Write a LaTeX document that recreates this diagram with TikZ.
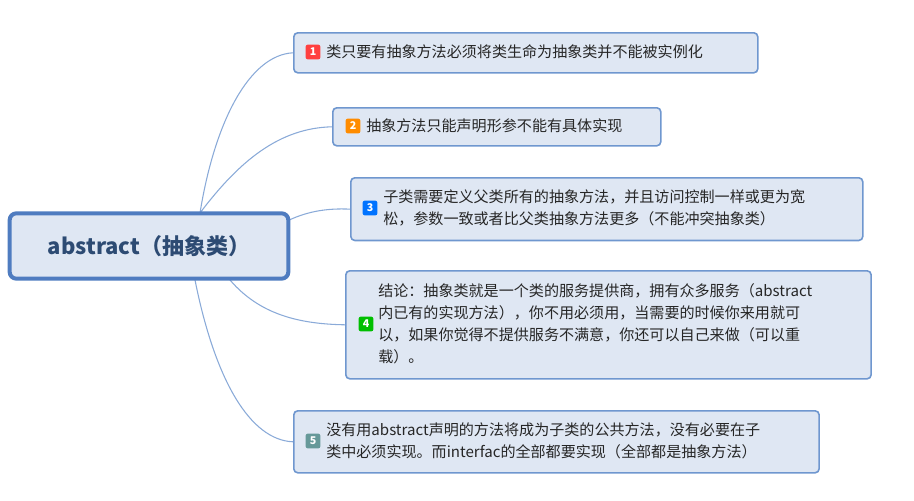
\documentclass[tikz,border=0pt]{standalone}
\usepackage{fontspec}
\setmainfont{Noto Sans CJK SC}
\begin{document}
\begin{tikzpicture}[x=0.75pt,y=-0.75pt,
  box/.style={draw=boxc,fill=boxf,line width=1.2pt,rounded corners=3pt,anchor=north west,inner sep=0pt},
  txt/.style={anchor=west,align=left,font=\fontsize{11.3}{16.5}\selectfont,text=black!85,inner sep=0pt},
  badge/.style={fill=#1,text=white,font=\fontsize{8}{8}\selectfont\bfseries,rounded corners=1.5pt,minimum width=11pt,minimum height=11pt,inner sep=0pt},
  link/.style={draw=linec,line width=0.8pt}]
\definecolor{boxc}{HTML}{6F97CF}
\definecolor{boxf}{HTML}{DFE7F3}
\definecolor{linec}{HTML}{8AAAD8}
\definecolor{rootc}{HTML}{4F7CC0}
\definecolor{roott}{HTML}{2D4B73}
\useasboundingbox (0,0) rectangle (914,500);
% boxes
\node[box,minimum width=464pt*0.75/0.75,minimum width=348pt,minimum height=30pt] (n1) at (293,32) {};
\node[box,minimum width=246pt,minimum height=28.5pt] (n2) at (332,107) {};
\node[box,minimum width=384pt,minimum height=47pt] (n3) at (350,177) {};
\node[box,minimum width=394pt,minimum height=81pt] (n4) at (345,270) {};
\node[box,minimum width=394pt,minimum height=46.5pt] (n5) at (293,410) {};
% connectors
\coordinate (r1) at (200,213);
\coordinate (r5) at (195,280);
\draw[link] (r1) .. controls (215,120) and (250,55) .. (n1.west);
\draw[link] (r1) .. controls (240,160) and (280,128) .. (n2.west);
\draw[link] (285,222) .. controls (305,212) and (325,208) .. (n3.west);
\draw[link] (230,280) .. controls (260,315) and (300,324) .. (n4.west);
\draw[link] (r5) .. controls (215,380) and (250,440) .. (n5.west);
% root
\node[draw=rootc,fill=boxf,line width=3pt,rounded corners=5pt,minimum width=209pt,minimum height=49pt,font=\fontsize{16.5}{20}\selectfont\bfseries,text=roott] (root) at (149,246) {abstract（抽象类）};
% texts
\node[badge=red!75!white] (b1) at (313,52) {1};
\node[txt] (t1) at (326,52) {类只要有抽象方法必须将类生命为抽象类并不能被实例化};
\node[badge=orange!90!yellow] (b2) at (353,126) {2};
\node[txt] (t2) at (366,126) {抽象方法只能声明形参不能有具体实现};
\node[badge=blue!55!cyan] (b3) at (370,208) {3};
\node[txt] (t3) at (383,208) {子类需要定义父类所有的抽象方法，并且访问控制一样或更为宽\\松，参数一致或者比父类抽象方法更多（不能冲突抽象类）};
\node[badge=green!75!black] (b4) at (366,324) {4};
\node[txt] (t4) at (378,324) {结论：抽象类就是一个类的服务提供商，拥有众多服务（abstract\\内已有的实现方法），你不用必须用，当需要的时候你来用就可\\以，如果你觉得不提供服务不满意，你还可以自己来做（可以重\\载）。};
\node[badge=teal!50!gray!80] (b5) at (313,441) {5};
\node[txt] (t5) at (326,441) {没有用abstract声明的方法将成为子类的公共方法，没有必要在子\\类中必须实现。而interfac的全部都要实现（全部都是抽象方法）};
\end{tikzpicture}
\end{document}
